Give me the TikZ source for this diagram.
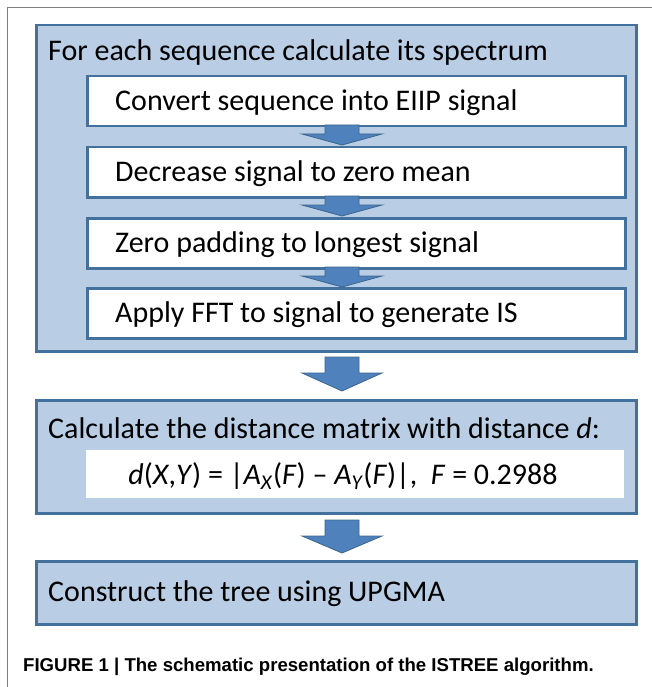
\documentclass[tikz,border=0pt]{standalone}
\usepackage{fontspec}
\setmainfont{Carlito}
\newfontfamily\capfont{Liberation Sans}
\usetikzlibrary{calc}
\definecolor{lightblue}{HTML}{B9CDE5}
\definecolor{edgeblue}{HTML}{41719C}
\definecolor{arrowblue}{HTML}{4F81BD}
\definecolor{framegray}{HTML}{808080}
\tikzset{
  outerbox/.style={draw=edgeblue, line width=2.5pt, fill=lightblue, anchor=north west, inner sep=0pt},
  innerbox/.style={draw=edgeblue, line width=2.5pt, fill=white, anchor=north west, inner sep=0pt,
     minimum width=538pt, minimum height=50pt},
  txt/.style={font=\fontsize{30}{36}\selectfont, inner sep=0pt},
  fatarrow/.style={fill=arrowblue, draw=edgeblue!90!black, line width=0.8pt},
}
\newcommand{\fatarrow}[4]{% x, top, head start, tip
  \filldraw[fatarrow] ($(#1-17,#2)$) -- ($(#1+17,#2)$) -- ($(#1+17,#3)$) -- ($(#1+40,#3)$)
    -- ($(#1,#4)$) -- ($(#1-40,#3)$) -- ($(#1-17,#3)$) -- cycle;}
\begin{document}
\begin{tikzpicture}[x=1pt,y=-1pt]
\useasboundingbox (0,0) rectangle (652,687);
% frame
\draw[framegray, line width=1.5pt] (7.5,687) -- (7.5,7.5) -- (652,7.5);
% box 1
\node[outerbox, minimum width=600pt, minimum height=326pt] (o1) at (35,24) {};
\node[txt, anchor=west] (t1) at (48,53) {For each sequence calculate its spectrum};
\node[innerbox] (s1) at (86,75) {};
\node[innerbox] (s2) at (86,146) {};
\node[innerbox] (s3) at (86,217) {};
\node[innerbox] (s4) at (86,287) {};
\node[txt, anchor=west] (l1) at ($(s1.west)+(29,1)$) {Convert sequence into EIIP signal};
\node[txt, anchor=west] (l2) at ($(s2.west)+(29,1)$) {Decrease signal to zero mean};
\node[txt, anchor=west] (l3) at ($(s3.west)+(29,1)$) {Zero padding to longest signal};
\node[txt, anchor=west] (l4) at ($(s4.west)+(29,1)$) {Apply FFT to signal to generate IS};
% box 2
\node[outerbox, minimum width=600pt, minimum height=113pt] (o2) at (35,399) {};
\node[txt, anchor=west] (t2) at (48,428) {Calculate the distance matrix with distance \textit{d}:};
\node[fill=white, anchor=north west, minimum width=538pt, minimum height=48pt, inner sep=0pt] (f) at (86,450) {};
\node[txt] (ft) at (343,476) {\textit{d}(\textit{X},\textit{Y}) = |\textit{A}\textsubscript{\textit{X}}(\textit{F}) – \textit{A}\textsubscript{\textit{Y}}(\textit{F})|,\ \ \textit{F} = 0.2988};
% box 3
\node[outerbox, minimum width=600pt, minimum height=63pt] (o3) at (35,560) {};
\node[txt, anchor=west] (t3) at (48,594) {Construct the tree using UPGMA};
% arrows
\fatarrow{342}{125}{134}{145}
\fatarrow{342}{196}{205}{216}
\fatarrow{342}{267}{276}{287}
\fatarrow{342}{357}{373}{391}
\fatarrow{342}{520}{536}{553}
% caption
\node[anchor=west, inner sep=0pt, font=\capfont\bfseries\fontsize{18.6}{22}\selectfont] (cap) at (23,667) {FIGURE 1 | The schematic presentation of the ISTREE algorithm.};
\end{tikzpicture}
\end{document}
